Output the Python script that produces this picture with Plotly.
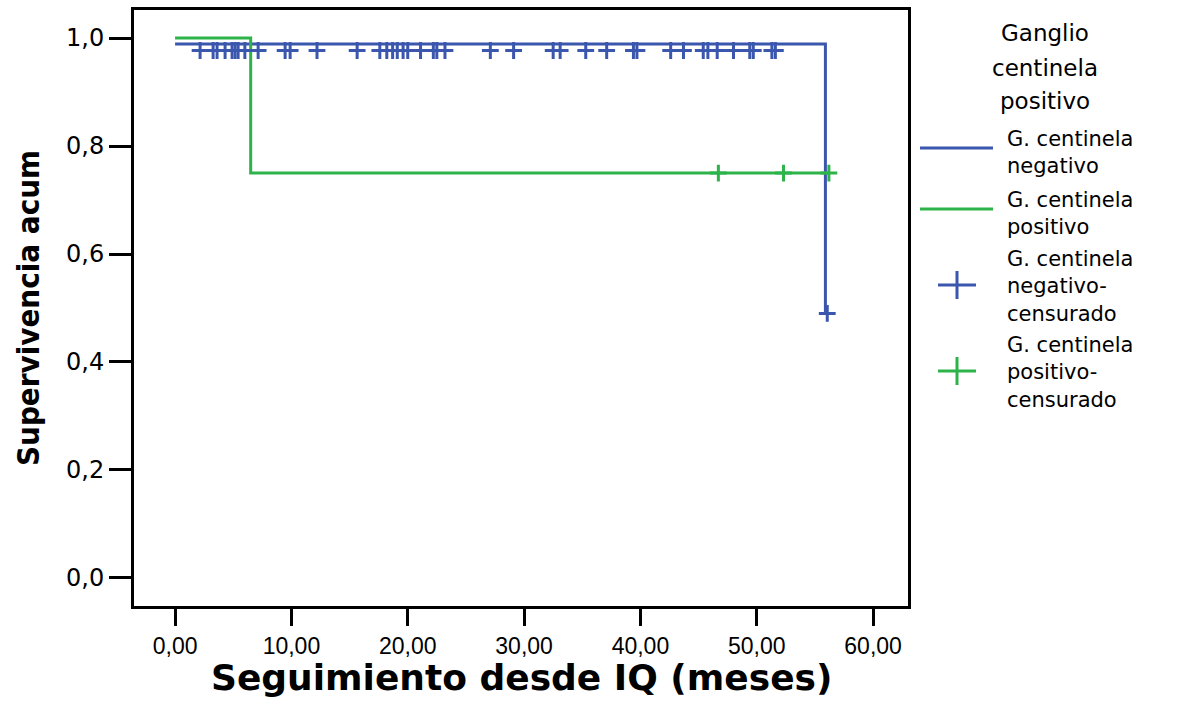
import plotly.graph_objects as go

# ---- data ----
neg_step_t = [0.0, 55.9, 56.06]
neg_step_s = [0.989, 0.49, 0.49]
pos_step_t = [0.0, 6.5, 56.2]
pos_step_s = [1.0, 0.75, 0.75]

neg_cens_t = [2.15, 3.27, 3.61, 4.3, 4.9, 5.16, 5.42, 6.0, 7.14, 9.46, 9.89, 12.2,
              15.65, 17.6, 18.2, 18.7, 19.1, 19.6, 20.0, 21.1, 22.2, 22.5, 23.2,
              27.1, 29.1, 32.5, 33.1, 35.3, 37.1, 39.4, 39.7, 42.6, 43.7, 45.4,
              45.8, 46.6, 48.0, 49.4, 49.7, 51.3, 51.6, 56.06]
neg_cens_s = [0.977] * 41 + [0.49]
pos_cens_t = [46.7, 52.3, 56.2]
pos_cens_s = [0.75, 0.75, 0.75]

x_tickvals = [0, 10, 20, 30, 40, 50, 60]
x_ticktext = ["0,00", "10,00", "20,00", "30,00", "40,00", "50,00", "60,00"]
y_tickvals = [0.0, 0.2, 0.4, 0.6, 0.8, 1.0]
y_ticktext = ["0,0", "0,2", "0,4", "0,6", "0,8", "1,0"]

x_title = "Seguimiento desde IQ (meses)"
y_title = "Supervivencia acum"
legend_title = ["Ganglio", "centinela", "positivo"]
legend_labels = [["G. centinela", "negativo"],
                 ["G. centinela", "positivo"],
                 ["G. centinela", "negativo-", "censurado"],
                 ["G. centinela", "positivo-", "censurado"]]

BLUE = "#3b56ad"
GREEN = "#2db34a"

W, H = 1198, 701
L, R, T, B = 134, 908, 10, 606

fig = go.Figure()
fig.add_trace(go.Scatter(x=neg_step_t, y=neg_step_s, mode="lines", line_shape="hv",
                         line=dict(color=BLUE, width=3), showlegend=False))
fig.add_trace(go.Scatter(x=pos_step_t, y=pos_step_s, mode="lines", line_shape="hv",
                         line=dict(color=GREEN, width=3), showlegend=False))
fig.add_trace(go.Scatter(x=neg_cens_t, y=neg_cens_s, mode="markers",
                         marker=dict(symbol="cross-thin", size=12,
                                     line=dict(color=BLUE, width=3)),
                         showlegend=False))
fig.add_trace(go.Scatter(x=pos_cens_t, y=pos_cens_s, mode="markers",
                         marker=dict(symbol="cross-thin", size=12,
                                     line=dict(color=GREEN, width=3)),
                         showlegend=False))


def px(xp):
    return (xp - L) / (R - L)


def py(yp):
    return (B - yp) / (B - T)


shapes = []
annotations = []
TITLE_FONT = dict(family="DejaVu Sans", size=23, color="black")
LEG_FONT = dict(family="DejaVu Sans", size=21, color="black")

# x-axis title (as annotation so it can sit low in the bottom margin)
annotations.append(dict(text="<b>" + x_title + "</b>", x=0.5, y=py(677),
                        xref="paper", yref="paper", xanchor="center", yanchor="middle",
                        showarrow=False,
                        font=dict(family="DejaVu Sans", size=36, color="black")))

# legend title
for txt, yp in zip(legend_title, [33, 68, 101]):
    annotations.append(dict(text=txt, x=px(1045), y=py(yp), xref="paper", yref="paper",
                            xanchor="center", yanchor="middle", showarrow=False,
                            font=TITLE_FONT))

# legend entries (one text block per entry, top of block given)
entry_tops = [125, 186, 245, 331]
for lines, yp in zip(legend_labels, entry_tops):
    annotations.append(dict(text="<br>".join(lines), x=px(1005), y=py(yp),
                            xref="paper", yref="paper", align="left",
                            xanchor="left", yanchor="top", showarrow=False,
                            font=LEG_FONT))

# legend symbols
for col, yp in [(BLUE, 148), (GREEN, 209)]:
    shapes.append(dict(type="line", xref="paper", yref="paper",
                       x0=px(920), x1=px(993), y0=py(yp), y1=py(yp),
                       line=dict(color=col, width=3)))
for col, yp in [(BLUE, 285), (GREEN, 371)]:
    shapes.append(dict(type="line", xref="paper", yref="paper",
                       x0=px(938), x1=px(976), y0=py(yp), y1=py(yp),
                       line=dict(color=col, width=3)))
    shapes.append(dict(type="line", xref="paper", yref="paper",
                       x0=px(957), x1=px(957), y0=py(yp - 14), y1=py(yp + 14),
                       line=dict(color=col, width=3)))

fig.update_layout(
    width=W, height=H,
    margin=dict(l=L, r=W - R, t=T, b=H - B, pad=0),
    paper_bgcolor="white", plot_bgcolor="white",
    shapes=shapes, annotations=annotations,
    showlegend=False,
    xaxis=dict(range=[-3.53, 63.0], tickvals=x_tickvals, ticktext=x_ticktext,
               automargin=False,
               showgrid=False, zeroline=False, showline=True, mirror=True,
               linecolor="black", linewidth=3, ticks="outside", ticklen=17,
               tickwidth=3, tickcolor="black",
               tickfont=dict(family="Liberation Sans", size=23, color="black")),
    yaxis=dict(range=[-0.052, 1.052], tickvals=y_tickvals, ticktext=y_ticktext,
               automargin=False,
               showgrid=False, zeroline=False, showline=True, mirror=True,
               linecolor="black", linewidth=3, ticks="outside", ticklen=22,
               tickwidth=3, tickcolor="black",
               tickfont=dict(family="DejaVu Sans", size=24, color="black"),
               title=dict(text="<b>" + y_title + "</b>", standoff=18,
                          font=dict(family="DejaVu Sans Condensed, Liberation Sans",
                                    size=31, color="black"))),
)

fig.write_html("out.html")
